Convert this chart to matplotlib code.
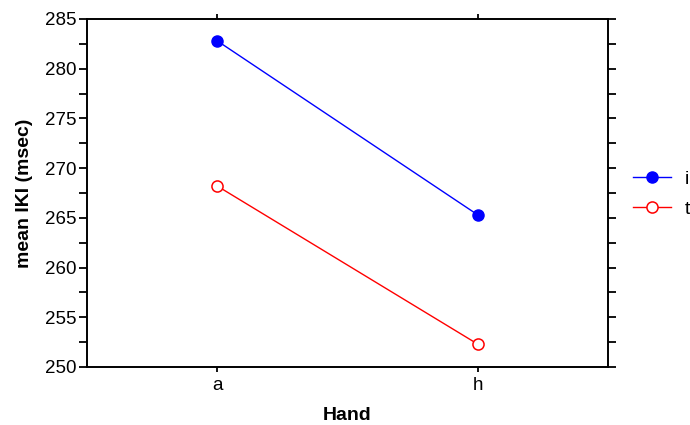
import matplotlib
matplotlib.use('Agg')
import matplotlib.pyplot as plt
from matplotlib.ticker import MultipleLocator

hands = ['a', 'h']
i_vals = [282.8, 265.3]
t_vals = [268.2, 252.3]

plt.rcParams['font.family'] = ['Liberation Sans', 'DejaVu Sans']

fig = plt.figure(figsize=(6.9, 4.25), dpi=100)
ax = fig.add_axes([87 / 690, 1 - 367 / 425, 521 / 690, 348 / 425])

x = range(len(hands))
ax.plot(x, i_vals, color='blue', lw=1, marker='o', ms=8,
        mfc='blue', mec='blue', label='i')
ax.plot(x, t_vals, color='red', lw=1, marker='o', ms=8,
        mfc='white', mec='red', mew=1.1, label='t')

ax.set_xlim(-0.5, 1.5)
ax.set_ylim(250, 285)
ax.set_xticks(list(x))
ax.set_xticklabels(hands)
ax.yaxis.set_major_locator(MultipleLocator(5))
ax.yaxis.set_minor_locator(MultipleLocator(2.5))

ax.tick_params(axis='both', which='both', direction='out', labelsize=13.5,
               width=1.3, top=True, right=True, labelright=False,
               labeltop=False, colors='black')
ax.tick_params(axis='y', which='both', length=5.5, pad=2)
ax.tick_params(axis='x', which='major', length=3.5, pad=4)
for s in ax.spines.values():
    s.set_linewidth(1.4)

ax.set_xlabel('Hand', fontsize=14, fontweight='bold', labelpad=9)
ax.set_ylabel('mean IKI (msec)', fontsize=14, fontweight='bold', labelpad=9)

# legend sits outside the axes, to the right
fig.legend(loc='center left', bbox_to_anchor=(633 / 690, 1 - 194 / 425),
           frameon=False, fontsize=14, handlelength=1.95,
           handletextpad=0.7, labelspacing=0.62, borderpad=0,
           borderaxespad=0)

plt.savefig('out.png', dpi=100)
plt.close()
